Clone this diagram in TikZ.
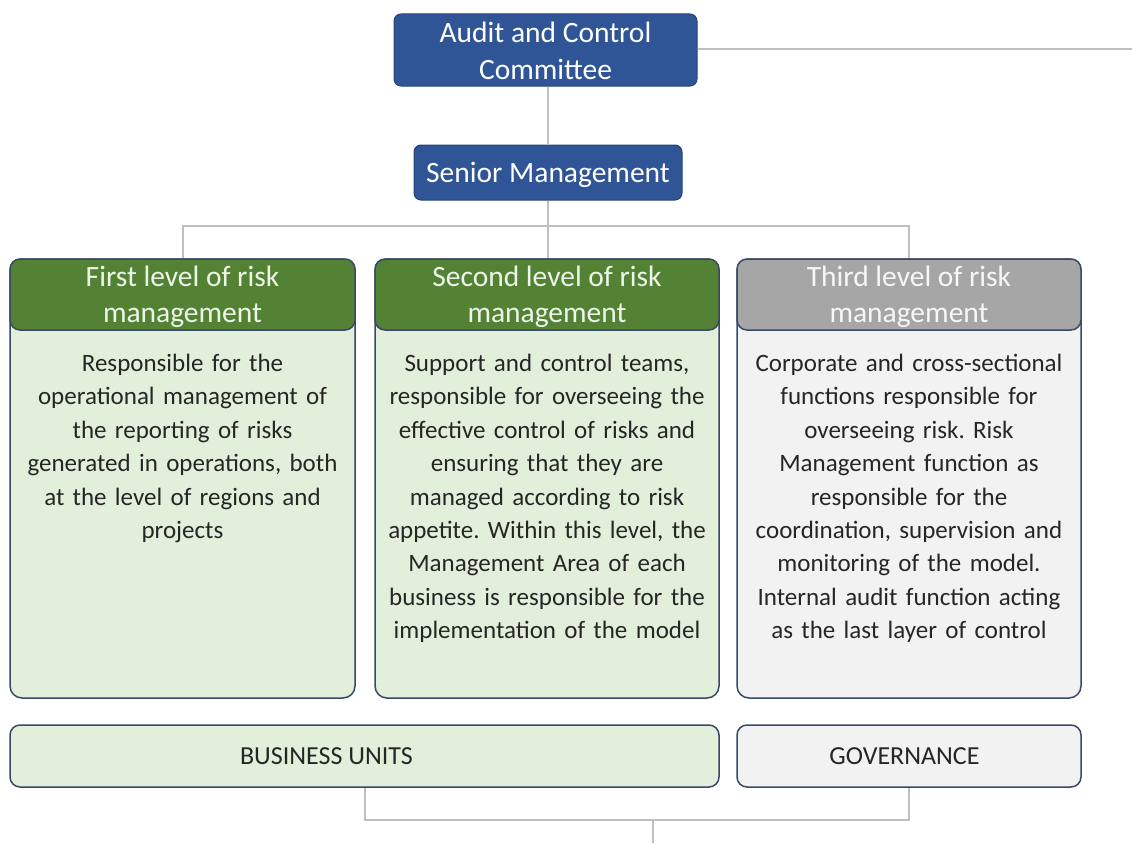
\documentclass[tikz,border=0pt]{standalone}
\usepackage{fontspec}
\setmainfont{Carlito}
\frenchspacing
\usetikzlibrary{calc}
\definecolor{navy}{HTML}{2F5597}
\definecolor{hgreen}{HTML}{548235}
\definecolor{lgreen}{HTML}{E2EFDA}
\definecolor{hgray}{HTML}{A6A6A6}
\definecolor{lgray}{HTML}{F2F2F2}
\definecolor{edge}{HTML}{3A4868}
\definecolor{conn}{HTML}{BFBFBF}
\definecolor{txt}{HTML}{262626}
\tikzset{
  topbox/.style={fill=navy, draw=navy!80!black, line width=1pt, rounded corners=7pt, inner sep=0pt},
  toptext/.style={text=white, font=\fontsize{29.5}{37}\selectfont, align=center, inner sep=0pt},
  bodybox/.style={draw=edge, line width=1.5pt, rounded corners=12pt},
  headbox/.style={draw=edge, line width=1.5pt, rounded corners=10pt, inner sep=0pt},
  headtext/.style={text=lgreen!60!white, font=\fontsize{29.5}{36}\selectfont, align=center, inner sep=0pt, yshift=-2pt},
  bodytext/.style={text=txt, font=\fontsize{25}{33.4}\selectfont, align=center, text width=336pt, inner sep=0pt, anchor=north},
  footbox/.style={draw=edge, line width=1.5pt, rounded corners=10pt, text=txt,
    font=\fontsize{26}{28}\selectfont, inner sep=0pt},
  conline/.style={draw=conn, line width=2pt},
}
\begin{document}
\begin{tikzpicture}[x=1pt,y=-1pt]
\useasboundingbox (0,0) rectangle (1132,843);
% top boxes
\node[topbox, minimum width=303pt, minimum height=72pt,
  label={[toptext, yshift=-1pt]center:Audit and Control\\Committee}] (audit) at (545.5,50) {};
\node[topbox, minimum width=268pt, minimum height=55pt,
  label={[toptext, yshift=-2.5pt]center:Senior Management}] (senior) at (548,172.5) {};
\coordinate (auditR) at (1132,49);
\coordinate (junc) at (548,226);
% level boxes
\node[bodybox, fill=lgreen, minimum width=345pt, minimum height=439pt] (b1) at (182.5,478.5) {};
\node[bodybox, fill=lgreen, minimum width=344pt, minimum height=439pt] (b2) at (547,478.5) {};
\node[bodybox, fill=lgray, minimum width=344pt, minimum height=439pt] (b3) at (909,478.5) {};
\node[headbox, fill=hgreen, minimum width=345pt, minimum height=71pt,
  label={[headtext]center:First level of risk\\management}] (h1) at (182.5,294.5) {};
\node[headbox, fill=hgreen, minimum width=344pt, minimum height=71pt,
  label={[headtext]center:Second level of risk\\management}] (h2) at (547,294.5) {};
\node[headbox, fill=hgray, minimum width=344pt, minimum height=71pt,
  label={[headtext, text=white!94!gray]center:Third level of risk\\management}] (h3) at (909,294.5) {};
\node[bodytext] (t1) at (182.5,354) {Responsible for the\\operational management of\\the reporting of risks\\generated in operations, both\\at the level of regions and\\projects};
\node[bodytext] (t2) at (547,354) {Support and control teams,\\responsible for overseeing the\\effective control of risks and\\ensuring that they are\\managed according to risk\\appetite. Within this level, the\\Management Area of each\\business is responsible for the\\implementation of the model};
\node[bodytext] (t3) at (909,354) {Corporate and cross-sectional\\functions responsible for\\overseeing risk. Risk\\Management function as\\responsible for the\\coordination, supervision and\\monitoring of the model.\\Internal audit function acting\\as the last layer of control};
% footer boxes
\node[footbox, fill=lgreen, minimum width=709pt, minimum height=62pt] (bu) at (364.5,756) {\hspace*{-76pt}BUSINESS UNITS};
\node[footbox, fill=lgray, minimum width=344pt, minimum height=62pt] (gov) at (909,756) {\hspace*{-9pt}GOVERNANCE};
\coordinate (bot) at (653,843);
% connectors
\draw[conline] (audit.east |- auditR) -- (auditR);
\draw[conline] (audit.south -| senior) -- (senior.north);
\draw[conline] (senior.south) -- (junc);
\draw[conline] (junc) -| (h1.north);
\draw[conline] (junc) -| (h3.north);
\draw[conline] (junc) -- (h2.north -| junc);
\draw[conline] (bu.south) -- ++(0,32) -| (gov.south);
\draw[conline] (bot |- 0,819) -- (bot);
\end{tikzpicture}
\end{document}
